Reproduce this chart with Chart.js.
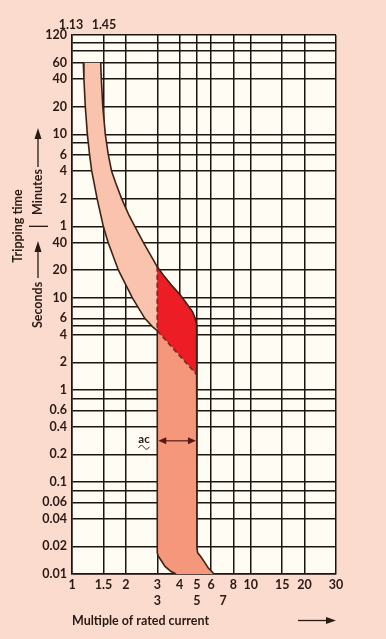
<!DOCTYPE html>
<html>
<head>
<meta charset="utf-8">
<script src="https://cdn.jsdelivr.net/npm/chart.js@4/dist/chart.umd.min.js"></script>
<style>
  html, body { margin: 0; padding: 0; background: #fcdbcf; }
  canvas { display: block; }
</style>
</head>
<body>
<canvas id="trip" width="386" height="639"></canvas>
<script>
// x = multiple of rated current, t = tripping time in seconds
var xTicks = [1, 1.5, 2, 3, 4, 5, 6, 7, 8, 10, 15, 20, 30];
var xTickLabels = ['1', '1.5', '2', ['3', '3'], '4', ['5', '5'], '6', ['', '7'], '8', '10', '15', '20', '30'];

var yTicks = [0.01, 0.02, 0.04, 0.06, 0.08, 0.1, 0.2, 0.4, 0.6, 0.8, 1, 2, 4, 5, 6, 8, 10, 20, 40,
              60, 120, 240, 360, 480, 600, 1200, 2400, 3600, 4800, 6000, 7200];
var yTickLabels = ['0.01', '0.02', '0.04', '0.06', '', '0.1', '0.2', '0.4', '0.6', '', '1', '2', '4', '', '6', '', '10', '20', '40',
                   '1', '2', '4', '6', '', '10', '20', '40', '60', '', '', '120'];

// lower (non tripping) curve
var leftX = [1.157, 1.166, 1.187, 1.219, 1.254, 1.289, 1.382, 1.497, 1.593, 1.818, 2.177, 2.555, 2.825, 3];
var leftT = [3600, 2400, 1200, 600, 360, 240, 120, 60, 40, 20, 10, 6, 4.85, 4.4];
// upper (tripping) curve, thermal part
var rightX = [1.447, 1.459, 1.487, 1.536, 1.596, 1.665, 1.752, 1.895, 2.079, 2.246, 2.51, 3];
var rightT = [3600, 2400, 1200, 600, 360, 240, 180, 120, 80, 60, 40, 21.8];
// upper edge of the red zone
var redX = [3, 3.24, 3.6, 4.03, 4.44, 4.72, 4.89, 4.98, 5];
var redT = [21.8, 17.8, 13.8, 10.8, 8.4, 7.1, 6.0, 5.1, 4.7];
// dashed lower edge of the red zone
var diagX = [3, 5];
var diagT = [4.4, 1.46];
// magnetic part, foot of the curves
var footLeftX = [3, 3.04, 3.135, 3.315, 3.567, 3.82];
var footLeftT = [0.0169, 0.0156, 0.0143, 0.0121, 0.0107, 0.01];
var footRightX = [5, 5.05, 5.25, 5.55, 5.79, 6.13, 6.23];
var footRightT = [0.0192, 0.017, 0.0155, 0.0132, 0.0116, 0.0104, 0.01];

var acRange = [3, 5];
var acTime = 0.28;

function pts(xs, ts) {
  return xs.map(function (x, i) { return { x: x, y: ts[i] }; });
}

var leftPts = pts(leftX, leftT);
var rightPts = pts(rightX, rightT);
var redPts = pts(redX, redT);
var diagPts = pts(diagX, diagT);
var footL = pts(footLeftX, footLeftT);
var footR = pts(footRightX, footRightT);

var bandShape = leftPts.concat(rightPts.slice().reverse(), [leftPts[0]]);
var redShape = redPts.concat(diagPts.slice().reverse(), [redPts[0]]);
var lowShape = diagPts.concat(footR, footL.slice().reverse(), [diagPts[0]]);

var outlineLeft = leftPts.concat(footL);
var outlineRight = rightPts.concat(redPts.slice(1), footR);
var dashed = [redPts[0]].concat(diagPts);

var ink = '#2a1a14';
var gridCol = '#1c1410';
var edge = '#3e2218';
var font = 'Lato';

function shape(data, color) {
  return { data: data, showLine: true, fill: 'shape', backgroundColor: color, borderWidth: 0,
           borderColor: 'rgba(0,0,0,0)', pointRadius: 0, tension: 0, order: 5 };
}
function line(data, color, width, dash) {
  return { data: data, showLine: true, fill: false, borderColor: color, borderWidth: width,
           borderDash: dash || [], pointRadius: 0, tension: 0, order: 1 };
}

var deco = {
  id: 'deco',
  beforeDraw: function (chart) {
    var c = chart.ctx, a = chart.chartArea;
    c.save();
    c.fillStyle = '#fffcf4';
    c.fillRect(a.left, a.top, a.right - a.left, a.bottom - a.top);
    c.restore();
  },
  afterDraw: function (chart) {
    var c = chart.ctx;
    var sx = chart.scales.x, sy = chart.scales.y;
    c.save();
    c.fillStyle = ink;
    c.strokeStyle = ink;
    c.font = 'bold 12.5px ' + font;
    c.textBaseline = 'middle';
    c.textAlign = 'center';
    c.fillText('1.13', 71, 25);
    c.fillText('1.45', 104, 25);

    // x title
    c.textAlign = 'left';
    c.fillText('Multiple of rated current', 72, 621);
    c.lineWidth = 1.3;
    c.beginPath(); c.moveTo(298, 620.5); c.lineTo(328, 620.5); c.stroke();
    c.beginPath(); c.moveTo(336, 620.5); c.lineTo(326, 617); c.lineTo(326, 624); c.closePath(); c.fill();

    // y titles
    c.textAlign = 'center';
    c.save(); c.translate(18, 226); c.rotate(-Math.PI / 2); c.fillText('Tripping time', 0, 0); c.restore();
    c.save(); c.translate(38, 192); c.rotate(-Math.PI / 2); c.fillText('Minutes', 0, 0); c.restore();
    c.save(); c.translate(38, 305); c.rotate(-Math.PI / 2); c.fillText('Seconds', 0, 0); c.restore();
    var ySep = sy.getPixelForValue(60);
    c.beginPath(); c.moveTo(29, ySep); c.lineTo(48, ySep); c.stroke();
    c.beginPath(); c.moveTo(38, 167); c.lineTo(38, 136); c.stroke();
    c.beginPath(); c.moveTo(38, 128); c.lineTo(34.5, 139); c.lineTo(41.5, 139); c.closePath(); c.fill();
    c.beginPath(); c.moveTo(38, 278); c.lineTo(38, 249); c.stroke();
    c.beginPath(); c.moveTo(38, 241); c.lineTo(34.5, 252); c.lineTo(41.5, 252); c.closePath(); c.fill();

    // ac band width arrow
    var x1 = sx.getPixelForValue(acRange[0]) + 1, x2 = sx.getPixelForValue(acRange[1]) - 1;
    var ya = sy.getPixelForValue(acTime);
    c.strokeStyle = '#5a1812'; c.fillStyle = '#5a1812';
    c.lineWidth = 1.2;
    c.beginPath(); c.moveTo(x1 + 6, ya); c.lineTo(x2 - 6, ya); c.stroke();
    c.beginPath(); c.moveTo(x1, ya); c.lineTo(x1 + 8, ya - 3.5); c.lineTo(x1 + 8, ya + 3.5); c.closePath(); c.fill();
    c.beginPath(); c.moveTo(x2, ya); c.lineTo(x2 - 8, ya - 3.5); c.lineTo(x2 - 8, ya + 3.5); c.closePath(); c.fill();
    c.fillStyle = ink;
    c.font = 'bold 11.5px ' + font;
    c.fillText('ac', 144, ya - 1.5);
    c.strokeStyle = ink; c.lineWidth = 1;
    c.beginPath();
    c.moveTo(138.5, ya + 7);
    c.bezierCurveTo(140.5, ya + 4, 142.5, ya + 4, 144, ya + 6.5);
    c.bezierCurveTo(145.5, ya + 9, 147.5, ya + 9, 149.5, ya + 6);
    c.stroke();
    c.restore();
  }
};

new Chart(document.getElementById('trip').getContext('2d'), {
  type: 'scatter',
  data: {
    datasets: [
      line(outlineLeft, edge, 1.6),
      line(outlineRight, edge, 1.6),
      line(dashed, '#7e2a22', 1.8, [5, 3]),
      shape(bandShape, '#f9c3ad'),
      shape(redShape, '#ec1d25'),
      shape(lowShape, '#f4977b')
    ]
  },
  options: {
    responsive: false,
    animation: false,
    layout: { padding: { left: 0, right: 50, top: 35, bottom: 0 } },
    plugins: { legend: { display: false }, tooltip: { enabled: false } },
    scales: {
      x: {
        type: 'logarithmic',
        min: 1, max: 30,
        afterFit: function (s) { s.height = 65; },
        afterBuildTicks: function (s) { s.ticks = xTicks.map(function (v) { return { value: v }; }); },
        ticks: {
          autoSkip: false, maxRotation: 0, padding: 3, color: ink,
          font: { family: font, weight: 'bold', size: 12.5, lineHeight: 1.3 },
          callback: function (v, i) { return xTickLabels[i]; }
        },
        grid: {
          drawTicks: false, lineWidth: 1.5,
          color: function (ctx) { return ctx.tick && ctx.tick.value === 7 ? 'rgba(0,0,0,0)' : gridCol; }
        },
        border: { color: gridCol, width: 1.5 }
      },
      y: {
        type: 'logarithmic',
        min: 0.01, max: 7200,
        afterFit: function (s) { s.width = 72; },
        afterBuildTicks: function (s) { s.ticks = yTicks.map(function (v) { return { value: v }; }); },
        ticks: {
          autoSkip: false, padding: 5, color: ink,
          font: { family: font, weight: 'bold', size: 12.5 },
          callback: function (v, i) { return yTickLabels[i]; }
        },
        grid: { drawTicks: false, lineWidth: 1.5, color: gridCol },
        border: { color: gridCol, width: 1.5 }
      }
    }
  },
  plugins: [deco]
});
</script>
</body>
</html>
